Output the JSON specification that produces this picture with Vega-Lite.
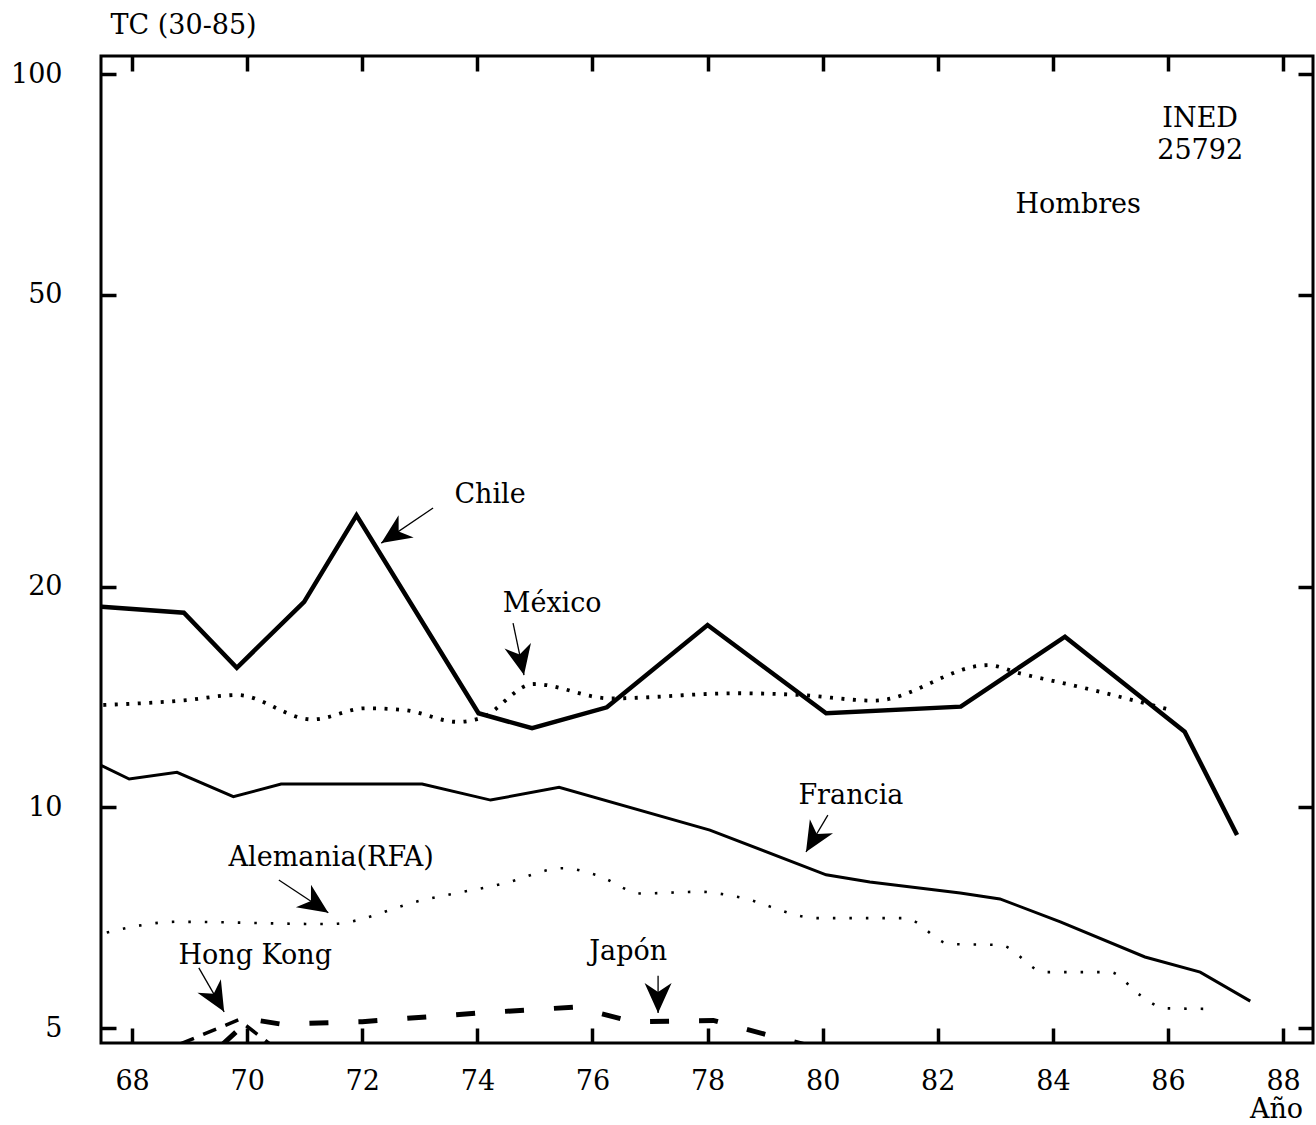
{
  "$schema": "https://vega.github.io/schema/vega-lite/v6.json",
  "width": 1212,
  "height": 987,
  "autosize": {"type": "none"},
  "padding": {"left": 101, "top": 56, "right": 3, "bottom": 82},
  "background": "white",
  "config": {
    "view": {"stroke": "black", "strokeWidth": 3},
    "axis": {
      "grid": false,
      "domain": false,
      "tickColor": "black",
      "tickWidth": 3.5,
      "tickSize": -15,
      "labelColor": "black",
      "labelFont": "DejaVu Serif",
      "labelFontSize": 27,
      "labelOverlap": false,
      "labelFlush": false,
      "titleColor": "black",
      "titleFont": "DejaVu Serif",
      "titleFontSize": 27,
      "titleFontWeight": "normal"
    }
  },
  "datasets": {
    "series": [
      {"pais": "Chile", "anio": 67.47, "tc": 18.77},
      {"pais": "Chile", "anio": 68.90, "tc": 18.43},
      {"pais": "Chile", "anio": 69.82, "tc": 15.50},
      {"pais": "Chile", "anio": 70.99, "tc": 19.07},
      {"pais": "Chile", "anio": 71.90, "tc": 25.03},
      {"pais": "Chile", "anio": 74.02, "tc": 13.44},
      {"pais": "Chile", "anio": 74.95, "tc": 12.82},
      {"pais": "Chile", "anio": 76.25, "tc": 13.69},
      {"pais": "Chile", "anio": 78.00, "tc": 17.73},
      {"pais": "Chile", "anio": 80.06, "tc": 13.44},
      {"pais": "Chile", "anio": 82.40, "tc": 13.72},
      {"pais": "Chile", "anio": 84.21, "tc": 17.09},
      {"pais": "Chile", "anio": 86.29, "tc": 12.68},
      {"pais": "Chile", "anio": 87.20, "tc": 9.17},

      {"pais": "Francia", "anio": 67.47, "tc": 11.40},
      {"pais": "Francia", "anio": 67.95, "tc": 10.93},
      {"pais": "Francia", "anio": 68.78, "tc": 11.16},
      {"pais": "Francia", "anio": 69.76, "tc": 10.34},
      {"pais": "Francia", "anio": 70.59, "tc": 10.76},
      {"pais": "Francia", "anio": 73.04, "tc": 10.76},
      {"pais": "Francia", "anio": 74.23, "tc": 10.23},
      {"pais": "Francia", "anio": 75.42, "tc": 10.65},
      {"pais": "Francia", "anio": 78.04, "tc": 9.31},
      {"pais": "Francia", "anio": 80.06, "tc": 8.09},
      {"pais": "Francia", "anio": 80.82, "tc": 7.91},
      {"pais": "Francia", "anio": 82.39, "tc": 7.64},
      {"pais": "Francia", "anio": 83.08, "tc": 7.50},
      {"pais": "Francia", "anio": 84.13, "tc": 6.98},
      {"pais": "Francia", "anio": 85.60, "tc": 6.25},
      {"pais": "Francia", "anio": 86.56, "tc": 5.96},
      {"pais": "Francia", "anio": 87.43, "tc": 5.44},

      {"pais": "México", "anio": 67.50, "tc": 13.79},
      {"pais": "México", "anio": 68.90, "tc": 13.99},
      {"pais": "México", "anio": 69.82, "tc": 14.23},
      {"pais": "México", "anio": 71.13, "tc": 13.18},
      {"pais": "México", "anio": 72.06, "tc": 13.65},
      {"pais": "México", "anio": 72.72, "tc": 13.58},
      {"pais": "México", "anio": 73.66, "tc": 13.08},
      {"pais": "México", "anio": 74.05, "tc": 13.23},
      {"pais": "México", "anio": 74.98, "tc": 14.73},
      {"pais": "México", "anio": 76.31, "tc": 14.08},
      {"pais": "México", "anio": 78.51, "tc": 14.31},
      {"pais": "México", "anio": 79.62, "tc": 14.23},
      {"pais": "México", "anio": 80.89, "tc": 13.98},
      {"pais": "México", "anio": 82.87, "tc": 15.63},
      {"pais": "México", "anio": 83.43, "tc": 15.23},
      {"pais": "México", "anio": 84.46, "tc": 14.60},
      {"pais": "México", "anio": 86.01, "tc": 13.60},

      {"pais": "Alemania", "anio": 67.56, "tc": 6.75},
      {"pais": "Alemania", "anio": 68.78, "tc": 6.98},
      {"pais": "Alemania", "anio": 71.42, "tc": 6.93},
      {"pais": "Alemania", "anio": 73.04, "tc": 7.47},
      {"pais": "Alemania", "anio": 74.48, "tc": 7.88},
      {"pais": "Alemania", "anio": 75.49, "tc": 8.26},
      {"pais": "Alemania", "anio": 76.06, "tc": 8.09},
      {"pais": "Alemania", "anio": 76.86, "tc": 7.63},
      {"pais": "Alemania", "anio": 77.87, "tc": 7.67},
      {"pais": "Alemania", "anio": 78.51, "tc": 7.55},
      {"pais": "Alemania", "anio": 79.92, "tc": 7.06},
      {"pais": "Alemania", "anio": 81.43, "tc": 7.06},
      {"pais": "Alemania", "anio": 82.21, "tc": 6.51},
      {"pais": "Alemania", "anio": 83.08, "tc": 6.49},
      {"pais": "Alemania", "anio": 83.86, "tc": 5.96},
      {"pais": "Alemania", "anio": 84.99, "tc": 5.96},
      {"pais": "Alemania", "anio": 85.51, "tc": 5.55},
      {"pais": "Alemania", "anio": 85.95, "tc": 5.32},
      {"pais": "Alemania", "anio": 86.64, "tc": 5.31},

      {"pais": "Japón", "anio": 69.56, "tc": 4.74},
      {"pais": "Japón", "anio": 70.05, "tc": 5.14},
      {"pais": "Japón", "anio": 70.60, "tc": 5.06},
      {"pais": "Japón", "anio": 72.00, "tc": 5.10},
      {"pais": "Japón", "anio": 74.00, "tc": 5.24},
      {"pais": "Japón", "anio": 75.70, "tc": 5.34},
      {"pais": "Japón", "anio": 76.70, "tc": 5.10},
      {"pais": "Japón", "anio": 78.10, "tc": 5.12},
      {"pais": "Japón", "anio": 79.70, "tc": 4.74},

      {"pais": "Hong Kong", "anio": 68.85, "tc": 4.76},
      {"pais": "Hong Kong", "anio": 69.85, "tc": 5.13},
      {"pais": "Hong Kong", "anio": 70.45, "tc": 4.72}
    ],
    "flechas": [
      {"pais": "Chile", "anio0": 73.23, "tc0": 25.6, "anio": 72.33, "tc": 22.93, "rumbo": 236},
      {"pais": "México", "anio0": 74.62, "tc0": 17.84, "anio": 74.81, "tc": 15.15, "rumbo": 168},
      {"pais": "Francia", "anio0": 80.09, "tc0": 9.76, "anio": 79.71, "tc": 8.69, "rumbo": 211},
      {"pais": "Alemania", "anio0": 70.55, "tc0": 7.96, "anio": 71.41, "tc": 7.18, "rumbo": 124},
      {"pais": "Hong Kong", "anio0": 69.16, "tc0": 6.04, "anio": 69.60, "tc": 5.26, "rumbo": 150},
      {"pais": "Japón", "anio0": 77.14, "tc0": 5.89, "anio": 77.14, "tc": 5.24, "rumbo": 180}
    ],
    "rotulos": [
      {"texto": "Chile", "anio": 74.22, "tc": 26.7},
      {"texto": "México", "anio": 75.30, "tc": 18.93},
      {"texto": "Francia", "anio": 80.49, "tc": 10.36},
      {"texto": "Alemania(RFA)", "anio": 71.46, "tc": 8.53},
      {"texto": "Hong Kong", "anio": 70.14, "tc": 6.27},
      {"texto": "Japón", "anio": 76.62, "tc": 6.35},
      {"texto": "INED", "anio": 86.56, "tc": 86.8},
      {"texto": "25792", "anio": 86.56, "tc": 78.5},
      {"texto": "Hombres", "anio": 84.44, "tc": 66.3}
    ]
  },
  "resolve": {"axis": {"x": "independent", "y": "independent"}},
  "layer": [
    {
      "data": {"name": "series"},
      "transform": [{"filter": "datum.pais === 'Chile'"}],
      "mark": {"type": "line", "color": "black", "strokeWidth": 4.5, "strokeJoin": "miter", "clip": true},
      "encoding": {
        "x": {
          "field": "anio", "type": "quantitative",
          "scale": {"domain": [67.46, 88.52], "nice": false, "zero": false},
          "axis": {
            "orient": "bottom",
            "values": [68, 70, 72, 74, 76, 78, 80, 82, 84, 86, 88],
            "format": "d",
            "labelPadding": 40,
            "title": "Año",
            "titleX": 1175,
            "titleY": 74,
            "titleAlign": "center",
            "titleBaseline": "alphabetic"
          }
        },
        "y": {
          "field": "tc", "type": "quantitative",
          "scale": {"type": "log", "domain": [4.77, 105.9], "nice": false},
          "axis": {
            "orient": "left",
            "values": [5, 10, 20, 50, 100],
            "format": "d",
            "labelPadding": 54,
            "title": "TC (30-85)",
            "titleAngle": 0,
            "titleAlign": "left",
            "titleBaseline": "alphabetic",
            "titleX": 9,
            "titleY": -23
          }
        }
      }
    },
    {
      "data": {"name": "series"},
      "transform": [{"filter": "datum.pais === 'Francia'"}],
      "mark": {"type": "line", "color": "black", "strokeWidth": 3, "clip": true},
      "encoding": {
        "x": {
          "field": "anio", "type": "quantitative",
          "scale": {"domain": [67.46, 88.52], "nice": false, "zero": false},
          "axis": {"orient": "top", "values": [68, 70, 72, 74, 76, 78, 80, 82, 84, 86, 88], "labels": false, "title": null}
        },
        "y": {
          "field": "tc", "type": "quantitative",
          "scale": {"type": "log", "domain": [4.77, 105.9], "nice": false},
          "axis": {"orient": "right", "values": [5, 10, 20, 50, 100], "labels": false, "title": null}
        }
      }
    },
    {
      "data": {"name": "series"},
      "transform": [{"filter": "datum.pais === 'México'"}],
      "mark": {"type": "line", "color": "black", "strokeWidth": 3.8, "strokeDash": [3, 8.5], "interpolate": "monotone", "clip": true},
      "encoding": {
        "x": {"field": "anio", "type": "quantitative", "scale": {"domain": [67.46, 88.52], "nice": false, "zero": false}, "axis": null},
        "y": {"field": "tc", "type": "quantitative", "scale": {"type": "log", "domain": [4.77, 105.9], "nice": false}, "axis": null}
      }
    },
    {
      "data": {"name": "series"},
      "transform": [{"filter": "datum.pais === 'Alemania'"}],
      "mark": {"type": "line", "color": "black", "strokeWidth": 2.6, "strokeDash": [2.5, 14], "interpolate": "monotone", "clip": true},
      "encoding": {
        "x": {"field": "anio", "type": "quantitative", "scale": {"domain": [67.46, 88.52], "nice": false, "zero": false}, "axis": null},
        "y": {"field": "tc", "type": "quantitative", "scale": {"type": "log", "domain": [4.77, 105.9], "nice": false}, "axis": null}
      }
    },
    {
      "data": {"name": "series"},
      "transform": [{"filter": "datum.pais === 'Japón'"}],
      "mark": {"type": "line", "color": "black", "strokeWidth": 5, "strokeDash": [19, 30], "clip": true},
      "encoding": {
        "x": {"field": "anio", "type": "quantitative", "scale": {"domain": [67.46, 88.52], "nice": false, "zero": false}, "axis": null},
        "y": {"field": "tc", "type": "quantitative", "scale": {"type": "log", "domain": [4.77, 105.9], "nice": false}, "axis": null}
      }
    },
    {
      "data": {"name": "series"},
      "transform": [{"filter": "datum.pais === 'Hong Kong'"}],
      "mark": {"type": "line", "color": "black", "strokeWidth": 3.5, "strokeDash": [14, 10], "clip": true},
      "encoding": {
        "x": {"field": "anio", "type": "quantitative", "scale": {"domain": [67.46, 88.52], "nice": false, "zero": false}, "axis": null},
        "y": {"field": "tc", "type": "quantitative", "scale": {"type": "log", "domain": [4.77, 105.9], "nice": false}, "axis": null}
      }
    },
    {
      "data": {"name": "flechas"},
      "mark": {"type": "rule", "color": "black", "strokeWidth": 1.3},
      "encoding": {
        "x": {"field": "anio", "type": "quantitative", "scale": {"domain": [67.46, 88.52], "nice": false, "zero": false}, "axis": null},
        "y": {"field": "tc", "type": "quantitative", "scale": {"type": "log", "domain": [4.77, 105.9], "nice": false}, "axis": null},
        "x2": {"field": "anio0"},
        "y2": {"field": "tc0"}
      }
    },
    {
      "data": {"name": "flechas"},
      "mark": {
        "type": "point",
        "shape": "M0,0 L-0.45,1 L0,0.7 L0.45,1 Z",
        "filled": true,
        "color": "black",
        "opacity": 1,
        "strokeWidth": 0,
        "size": 3600
      },
      "encoding": {
        "x": {"field": "anio", "type": "quantitative", "scale": {"domain": [67.46, 88.52], "nice": false, "zero": false}, "axis": null},
        "y": {"field": "tc", "type": "quantitative", "scale": {"type": "log", "domain": [4.77, 105.9], "nice": false}, "axis": null},
        "angle": {"field": "rumbo", "type": "quantitative", "scale": null}
      }
    },
    {
      "data": {"name": "rotulos"},
      "mark": {"type": "text", "font": "DejaVu Serif", "fontSize": 27, "color": "black", "align": "center", "baseline": "middle"},
      "encoding": {
        "x": {"field": "anio", "type": "quantitative", "scale": {"domain": [67.46, 88.52], "nice": false, "zero": false}, "axis": null},
        "y": {"field": "tc", "type": "quantitative", "scale": {"type": "log", "domain": [4.77, 105.9], "nice": false}, "axis": null},
        "text": {"field": "texto"}
      }
    }
  ]
}
